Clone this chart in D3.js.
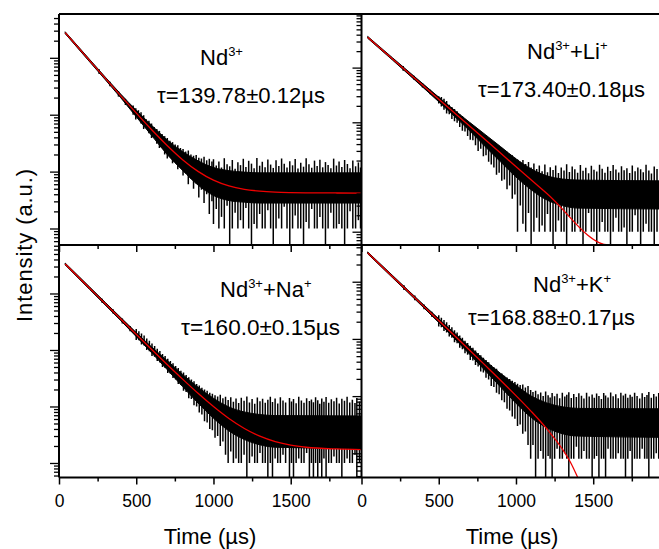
<!DOCTYPE html>
<html>
<head>
<meta charset="utf-8">
<script src="https://cdn.jsdelivr.net/npm/d3@7"></script>
<style>
  body { margin: 0; background: #fff; }
  svg { display: block; }
  text { font-family: "Liberation Sans", Arial, sans-serif; fill: #000; }
</style>
</head>
<body>
<svg width="659" height="549"></svg>
<script>
// x ticks (us) and labels
var xTicks = [0, 250, 500, 750, 1000, 1250, 1500, 1750];
var xLabels = [0, 500, 1000, 1500];

// annotation text per panel
var ionNames = [
  [["Nd", 0], ["3+", 1]],
  [["Nd", 0], ["3+", 1], ["+Li", 0], ["+", 1]],
  [["Nd", 0], ["3+", 1], ["+Na", 0], ["+", 1]],
  [["Nd", 0], ["3+", 1], ["+K", 0], ["+", 1]]
];
var lifetimes = ["\u03c4=139.78\u00b10.12\u00b5s", "\u03c4=173.40\u00b10.18\u00b5s",
                 "\u03c4=160.0\u00b10.15\u00b5s", "\u03c4=168.88\u00b10.17\u00b5s"];

// ---- Nd3+ (top left)
var tlEnvT = [40, 200, 400, 500, 600, 700, 800, 900, 1000, 1100, 1200, 1300, 1955];
var tlHi = [28700, 9250, 2300, 1200, 650, 360, 225, 155, 118, 104, 98, 95, 95];
var tlLo = [26600, 8400, 1980, 920, 430, 200, 105, 58, 38, 31, 29, 28, 28];
var tlFitT = [40, 200, 400, 600, 700, 800, 900, 1000, 1100, 1200, 1300, 1400, 1500, 1600, 1800, 1955];
var tlFit = [27640, 8830, 2144, 544, 288, 162, 101, 70.7, 56, 48.9, 45.4, 43.6, 42.8, 42.4, 42.1, 42];
var tlSpikes = [
  [260, 6300, 5200], [330, 3800, 3150], [385, 2580, 2080], [430, 1900, 1480],
  [480, 1450, 1000], [497, 1300, 820], [514, 1200, 870], [531, 1100, 700], [548, 980, 560],
  [565, 830, 590], [582, 780, 470], [599, 700, 390], [616, 610, 400], [633, 560, 310],
  [650, 520, 260], [667, 460, 290], [684, 420, 200], [701, 390, 170], [718, 350, 200],
  [735, 330, 140], [752, 300, 150], [769, 290, 110], [786, 260, 120], [803, 250, 85],
  [820, 225, 95], [837, 235, 60], [854, 200, 75], [871, 190, 50], [888, 195, 62],
  [905, 175, 35], [922, 170, 48], [939, 182, 28], [956, 158, 40], [973, 168, 18], [990, 150, 30],
  [1000, 165, 12], [1018, 128, 22], [1035, 150, 10], [1052, 118, 16], [1070, 172, 10],
  [1088, 135, 25], [1105, 124, 0], [1122, 160, 10], [1140, 112, 19], [1158, 146, 10],
  [1175, 130, 14], [1193, 168, 10], [1210, 121, 23], [1228, 155, 10], [1246, 138, 0],
  [1263, 114, 12], [1281, 174, 10], [1299, 127, 18], [1316, 149, 10], [1334, 119, 10],
  [1352, 163, 21], [1370, 133, 10], [1387, 116, 0], [1405, 158, 10], [1423, 125, 15],
  [1441, 170, 10], [1458, 137, 24], [1476, 118, 10], [1494, 152, 0], [1512, 129, 10],
  [1529, 166, 17], [1547, 113, 10], [1565, 143, 10], [1583, 122, 0], [1600, 171, 13],
  [1618, 134, 10], [1636, 117, 22], [1654, 156, 10], [1671, 126, 10], [1689, 162, 16],
  [1707, 119, 10], [1725, 147, 0], [1742, 131, 10], [1760, 115, 19], [1778, 169, 10],
  [1796, 128, 10], [1813, 151, 12], [1831, 120, 10], [1849, 160, 0], [1867, 136, 10],
  [1884, 114, 20], [1902, 157, 10], [1920, 124, 10], [1938, 145, 14], [1952, 118, 10]
];

// ---- Nd3+ + Li+ (top right)
var trEnvT = [40, 200, 400, 600, 700, 800, 900, 1000, 1100, 1200, 1300, 1400, 1955];
var trHi = [37200, 15200, 5000, 1680, 1000, 600, 360, 215, 140, 105, 92, 88, 85];
var trLo = [34400, 13800, 4300, 1300, 700, 360, 190, 100, 58, 38, 30, 27, 26];
var trFitT = [40, 400, 800, 1200, 1600, 1955];
var trFit = [35800, 4656, 483, 50, 5.19, 0.69];
var trSpikes = [
  [270, 10700, 8800], [340, 7100, 6000], [395, 5200, 4350], [445, 3950, 3250],
  [500, 3000, 2200], [517, 2900, 1950], [534, 2700, 1700], [551, 2450, 1450], [568, 2100, 1400],
  [585, 1900, 1150], [602, 1750, 1050], [619, 1600, 980], [636, 1400, 820], [653, 1300, 700],
  [670, 1150, 680], [687, 1000, 560], [704, 950, 480], [721, 860, 470], [738, 760, 380],
  [755, 700, 300], [772, 640, 330], [789, 580, 240], [806, 540, 250], [823, 490, 190],
  [840, 470, 170], [857, 420, 150], [874, 390, 110], [891, 360, 120], [908, 330, 85],
  [925, 310, 90], [942, 290, 60], [959, 262, 70], [976, 250, 40], [993, 225, 48],
  [1010, 210, 10], [1028, 190, 30], [1045, 205, 14], [1063, 172, 10], [1081, 188, 22],
  [1098, 150, 0], [1116, 176, 10], [1134, 140, 18], [1151, 162, 10], [1169, 128, 13],
  [1187, 170, 10], [1204, 122, 21], [1222, 151, 10], [1240, 134, 0], [1257, 163, 10],
  [1275, 118, 16], [1293, 149, 10], [1311, 131, 10], [1328, 171, 0], [1346, 124, 19],
  [1364, 156, 10], [1381, 139, 10], [1399, 120, 14], [1417, 165, 10], [1434, 130, 0],
  [1452, 148, 10], [1470, 117, 22], [1488, 160, 10], [1505, 136, 10], [1523, 126, 0],
  [1541, 168, 10], [1558, 141, 15], [1576, 119, 10], [1594, 154, 10], [1612, 129, 0],
  [1629, 166, 10], [1647, 137, 18], [1665, 121, 10], [1683, 158, 10], [1700, 133, 12],
  [1718, 145, 0], [1736, 118, 10], [1753, 163, 10], [1771, 127, 20], [1789, 150, 10],
  [1807, 138, 0], [1824, 122, 10], [1842, 167, 14], [1860, 131, 10], [1877, 116, 10],
  [1895, 155, 0], [1913, 140, 10], [1931, 125, 17], [1948, 159, 10]
];

// ---- Nd3+ + Na+ (bottom left)
var blEnvT = [40, 200, 400, 600, 700, 800, 900, 1000, 1100, 1200, 1300, 1400, 1955];
var blHi = [34600, 12900, 3750, 1130, 650, 370, 220, 140, 98, 80, 72, 69, 68];
var blLo = [32000, 11650, 3300, 890, 450, 225, 115, 62, 37, 26, 21, 19, 18];
var blFitT = [40, 200, 400, 600, 700, 800, 900, 1000, 1100, 1200, 1300, 1400, 1500, 1600, 1800, 1955];
var blFit = [33290, 12260, 3525, 1021, 555, 305, 171, 99.7, 61.3, 40.8, 29.8, 23.9, 20.7, 19.0, 17.7, 17.3];
var blSpikes = [
  [280, 8100, 6800], [350, 5250, 4400], [410, 3600, 2950], [460, 2650, 2150],
  [500, 2350, 1500], [517, 2150, 1480], [534, 1950, 1250], [551, 1800, 1200], [568, 1600, 1000],
  [585, 1450, 950], [602, 1300, 780], [619, 1180, 760], [636, 1050, 640], [653, 960, 600],
  [670, 850, 500], [687, 780, 480], [704, 700, 390], [721, 640, 380], [738, 580, 320],
  [755, 520, 300], [772, 480, 250], [789, 430, 240], [806, 400, 190], [823, 360, 180],
  [840, 330, 140], [857, 300, 135], [874, 280, 105], [891, 250, 100], [908, 235, 78],
  [925, 215, 72], [942, 200, 55], [959, 190, 52], [976, 175, 40], [993, 168, 38],
  [1010, 158, 28], [1027, 150, 30], [1044, 162, 20], [1061, 140, 24], [1078, 148, 14],
  [1095, 130, 10], [1112, 146, 16], [1129, 121, 10], [1146, 138, 12], [1163, 115, 10],
  [1180, 142, 10], [1198, 126, 14], [1216, 150, 0], [1233, 118, 10], [1250, 135, 13],
  [1267, 112, 10], [1284, 144, 10], [1301, 124, 15], [1318, 137, 10], [1335, 116, 10],
  [1352, 131, 0], [1368, 148, 10], [1382, 120, 0], [1399, 139, 12], [1416, 113, 10],
  [1433, 146, 10], [1450, 127, 14], [1467, 118, 10], [1492, 141, 0], [1505, 123, 10],
  [1518, 136, 0], [1535, 114, 10], [1552, 149, 12], [1569, 128, 10], [1586, 117, 10],
  [1603, 140, 15], [1621, 125, 0], [1634, 133, 10], [1647, 119, 0], [1661, 145, 10],
  [1675, 129, 0], [1688, 112, 10], [1701, 138, 0], [1715, 121, 12], [1729, 147, 0],
  [1746, 116, 10], [1763, 134, 10], [1780, 124, 13], [1797, 143, 10], [1814, 113, 10],
  [1831, 137, 0], [1848, 126, 10], [1865, 149, 12], [1882, 118, 10], [1899, 132, 10],
  [1916, 115, 14], [1928, 141, 0], [1945, 122, 10]
];

// ---- Nd3+ + K+ (bottom right)
var brEnvT = [40, 200, 400, 600, 700, 800, 900, 1000, 1100, 1200, 1300, 1400, 1955];
var brHi = [33200, 12950, 4000, 1280, 730, 420, 250, 155, 100, 76, 65, 61, 60];
var brLo = [30800, 11800, 3570, 1030, 540, 280, 145, 75, 42, 28, 22, 20, 19];
var brFitT = [40, 200, 400, 600, 700, 800, 900, 1000, 1100, 1200, 1300, 1350, 1400];
var brFit = [31980, 12380, 3786, 1155, 635, 348, 190, 102, 53.6, 26.7, 11.9, 7.2, 3.7];
var brSpikes = [
  [275, 8700, 7200], [345, 5750, 4750], [405, 4000, 3300], [455, 3000, 2450],
  [500, 2600, 1650], [517, 2350, 1600], [534, 2150, 1380], [551, 1950, 1300], [568, 1750, 1100],
  [585, 1600, 1050], [602, 1420, 870], [619, 1300, 840], [636, 1150, 700], [653, 1050, 660],
  [670, 930, 560], [687, 850, 530], [704, 760, 430], [721, 700, 420], [738, 630, 350],
  [755, 570, 330], [772, 520, 270], [789, 470, 260], [806, 430, 210], [823, 390, 195],
  [840, 350, 150], [857, 320, 145], [874, 300, 115], [891, 265, 108], [908, 248, 85],
  [925, 228, 78], [942, 212, 60], [959, 200, 56], [976, 185, 44], [993, 176, 40],
  [1010, 165, 30], [1027, 156, 32], [1044, 160, 22], [1061, 142, 24], [1078, 150, 14],
  [1095, 128, 8], [1110, 118, 14], [1127, 124, 0], [1143, 108, 8], [1160, 116, 11],
  [1176, 100, 8], [1192, 120, 0], [1208, 104, 9], [1221, 95, 8], [1234, 113, 0],
  [1250, 99, 8], [1266, 110, 12], [1283, 92, 8], [1300, 114, 8], [1316, 98, 10],
  [1329, 106, 8], [1342, 117, 0], [1358, 93, 8], [1374, 109, 8], [1391, 96, 13],
  [1407, 112, 8], [1424, 101, 8], [1440, 91, 11], [1457, 115, 8], [1474, 98, 8],
  [1493, 107, 0], [1507, 94, 8], [1522, 111, 9], [1537, 100, 0], [1553, 89, 8],
  [1568, 113, 8], [1580, 103, 0], [1596, 95, 12], [1613, 116, 8], [1629, 99, 8],
  [1646, 108, 8], [1662, 92, 10], [1679, 114, 8], [1695, 102, 8], [1709, 110, 0],
  [1724, 94, 8], [1739, 106, 11], [1752, 97, 0], [1768, 115, 8], [1784, 100, 8],
  [1801, 91, 8], [1817, 112, 12], [1833, 96, 8], [1848, 105, 8], [1860, 118, 0],
  [1876, 94, 8], [1892, 109, 8], [1908, 98, 10], [1924, 113, 8], [1940, 101, 8], [1953, 93, 8]
];

var svg = d3.select("svg");
var pw = 302;

// panel layout: position, log range, annotation placement [x1, y1, x2, y2, width2]
var panels = [
  {id: "tl", x0: 59, y0: 14, h: 231, ylog: [0.71, 4.77], env: [tlEnvT, tlHi, tlLo], fit: [tlFitT, tlFit], spikes: tlSpikes,
   labels: false, ann: [200, 65, 157, 102.7, 168]},
  {id: "tr", x0: 361.5, y0: 14, h: 231, ylog: [0.757, 4.98], env: [trEnvT, trHi, trLo], fit: [trFitT, trFit], spikes: trSpikes,
   labels: false, ann: [527, 59.3, 478, 96.7, 167]},
  {id: "bl", x0: 59, y0: 245, h: 232.5, ylog: [0.743, 4.858], env: [blEnvT, blHi, blLo], fit: [blFitT, blFit], spikes: blSpikes,
   labels: true, ann: [220, 297, 181, 335, 159]},
  {id: "br", x0: 361.5, y0: 245, h: 232.5, ylog: [0.577, 4.642], env: [brEnvT, brHi, brLo], fit: [brFitT, brFit], spikes: brSpikes,
   labels: true, ann: [533, 292.3, 468, 325, 167]}
];

var defs = svg.append("defs");

panels.forEach(function(p, i) {
  var x = d3.scaleLinear().domain([0, 1955]).range([p.x0, p.x0 + pw]);
  var y = d3.scaleLog().domain([Math.pow(10, p.ylog[0]), Math.pow(10, p.ylog[1])])
      .range([p.y0 + p.h, p.y0]).clamp(true);
  var ymin = y.domain()[0];

  defs.append("clipPath").attr("id", "clip-" + p.id)
    .append("rect").attr("x", p.x0).attr("y", p.y0).attr("width", pw).attr("height", p.h);

  var g = svg.append("g").attr("clip-path", "url(#clip-" + p.id + ")");

  // noisy decay data: solid core plus spikes
  g.append("path")
    .datum(d3.zip(p.env[0], p.env[1], p.env[2]))
    .attr("d", d3.area()
      .curve(d3.curveMonotoneX)
      .x(function(d) { return x(d[0]); })
      .y0(function(d) { return y(d[2]); })
      .y1(function(d) { return y(d[1]); }))
    .attr("fill", "#000")
    .attr("stroke", "#000")
    .attr("stroke-width", 1);

  g.selectAll("line.spike")
    .data(p.spikes)
    .enter().append("line")
      .attr("class", "spike")
      .attr("x1", function(d) { return x(d[0]); })
      .attr("x2", function(d) { return x(d[0]); })
      .attr("y1", function(d) { return y(d[1]); })
      .attr("y2", function(d) { return y(Math.max(d[2], ymin)); })
      .attr("stroke", "#000")
      .attr("stroke-width", 1.5);

  // fit
  g.append("path")
    .datum(d3.zip(p.fit[0], p.fit[1]))
    .attr("d", d3.line()
      .curve(d3.curveMonotoneX)
      .x(function(d) { return x(d[0]); })
      .y(function(d) { return y(Math.max(d[1], ymin / 3)); }))
    .attr("fill", "none")
    .attr("stroke", "#ee0000")
    .attr("stroke-width", 1.3);

  // x axis
  var xa = svg.append("g")
    .attr("transform", "translate(0," + (p.y0 + p.h) + ")")
    .call(d3.axisBottom(x).tickValues(xTicks).tickSizeOuter(0)
      .tickFormat(function(d) { return p.labels && xLabels.indexOf(d) >= 0 ? d : ""; }));
  xa.select(".domain").remove();
  xa.selectAll(".tick line")
    .attr("y2", function(d) { return d % 500 === 0 ? 7 : 4; })
    .attr("stroke-width", 1.5);
  xa.selectAll(".tick text")
    .attr("y", 29.5).attr("dy", null)
    .attr("font-size", 17.5)
    .attr("font-family", "\"Liberation Sans\", Arial, sans-serif");

  // y axis (log, no labels)
  var ya = svg.append("g")
    .attr("transform", "translate(" + p.x0 + ",0)")
    .call(d3.axisLeft(y).tickSizeOuter(0).tickFormat(""));
  ya.select(".domain").remove();
  ya.selectAll(".tick line")
    .attr("x2", function(d) {
      var l = Math.log10(d);
      return Math.abs(l - Math.round(l)) < 1e-6 ? -9 : -5;
    })
    .attr("stroke-width", 1.3);

  // annotation
  var a = p.ann;
  var t1 = svg.append("text").attr("x", a[0]).attr("y", a[1])
    .attr("font-size", 22);
  var sup = false;
  ionNames[i].forEach(function(part) {
    var s = part[1] === 1;
    t1.append("tspan")
      .attr("font-size", s ? 13 : null)
      .attr("dy", s && !sup ? -9 : (!s && sup ? 9 : 0))
      .text(part[0]);
    sup = s;
  });
  svg.append("text").attr("x", a[2]).attr("y", a[3])
    .attr("font-size", 22.5)
    .attr("textLength", a[4]).attr("lengthAdjust", "spacingAndGlyphs")
    .text(lifetimes[i]);
});

// frame lines
var frame = [
  [59, 14, 663, 14],
  [59, 14, 59, 477.5],
  [361.5, 14, 361.5, 477.5],
  [59, 245, 663, 245],
  [59, 477.5, 663, 477.5]
];
svg.selectAll("line.frame")
  .data(frame)
  .enter().append("line")
    .attr("class", "frame")
    .attr("x1", function(d) { return d[0]; })
    .attr("y1", function(d) { return d[1]; })
    .attr("x2", function(d) { return d[2]; })
    .attr("y2", function(d) { return d[3]; })
    .attr("stroke", "#000")
    .attr("stroke-width", 2);

// axis titles
[210, 512].forEach(function(cx) {
  svg.append("text")
    .attr("x", cx).attr("y", 544)
    .attr("text-anchor", "middle")
    .attr("font-size", 22)
    .text("Time (\u00b5s)");
});
svg.append("text")
  .attr("transform", "translate(32,245) rotate(-90)")
  .attr("text-anchor", "middle")
  .attr("font-size", 22)
  .attr("letter-spacing", 0.9)
  .text("Intensity (a.u.)");
</script>
</body>
</html>
